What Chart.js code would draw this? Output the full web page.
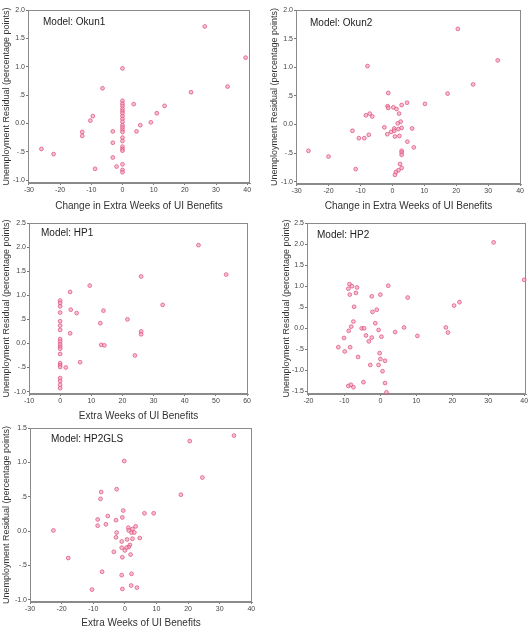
<!DOCTYPE html>
<html>
<head>
<meta charset="utf-8">
<script src="https://cdn.jsdelivr.net/npm/chart.js@4.4.1/dist/chart.umd.min.js"></script>
<style>
  body { margin: 0; background: #fff; }
  #wrap { position: relative; width: 531px; height: 639px; overflow: hidden; }
  #wrap canvas { position: absolute; }
</style>
</head>
<body>
<div id="wrap">
  <canvas id="c1"></canvas>
  <canvas id="c2"></canvas>
  <canvas id="c3"></canvas>
  <canvas id="c4"></canvas>
  <canvas id="c5"></canvas>
</div>
<script>
// tick labels
const weeksTicksWide = [-30, -20, -10, 0, 10, 20, 30, 40];
const weeksTicksHP1 = [-10, 0, 10, 20, 30, 40, 50, 60];
const weeksTicksHP2 = [-20, -10, 0, 10, 20, 30, 40];
const residTicksOkun = [-1.0, -0.5, 0.0, 0.5, 1.0, 1.5, 2.0];
const residTicksHP1 = [-1.0, -0.5, 0.0, 0.5, 1.0, 1.5, 2.0, 2.5];
const residTicksHP2 = [-1.5, -1.0, -0.5, 0.0, 0.5, 1.0, 1.5, 2.0, 2.5];
const residTicksGLS = [-1.0, -0.5, 0.0, 0.5, 1.0, 1.5];

// Model: Okun1
const okun1X = [26.4, 39.5, 33.7, 22, 0, -6.4, 3.6, 13.5, 11, 9.1, 5.7, 4.5, -9.5, -10.3, -12.9, -12.9,
  -3.1, -3.1, -3.1, -1.9, -8.8, -26, -22.1,
  0, 0, 0, 0, 0, 0, 0, 0, 0, 0, 0, 0, 0, 0, 0, 0, 0, 0, 0, 0, 0];
const okun1Y = [1.71, 1.16, 0.65, 0.55, 0.97, 0.62, 0.34, 0.31, 0.18, 0.02, -0.03, -0.14, 0.13, 0.05, -0.15, -0.22,
  -0.14, -0.34, -0.6, -0.76, -0.8, -0.45, -0.54,
  0.40, 0.35, 0.31, 0.26, 0.22, 0.18, 0.13, 0.08, 0.03, -0.03, -0.07, -0.11, -0.15, -0.25, -0.31, -0.41, -0.45, -0.48, -0.72, -0.82, -0.86];

// Model: Okun2
const okun2X = [20.5, 33, 25.3, 17.3, -7.8, -1.3, 4.6, 10.2, 2.9, -1.5, -1.3, 0.3, 1.3, 2.1, -7.1, -8.3, -6.3,
  -2.5, -12.5, -10.5, -8.8, -7.4, -1.6, -0.4, 0.6, 1.7, 2.6, 0.6, 1.9, 2.9, 0.8, 2.2, 6.2, 4.7, 6.7,
  2.9, 2.9, 2.9, 2.4, 2.9, 1.9, 1.1, 0.8, -11.5, -26.3, -20];
const okun2Y = [1.67, 1.12, 0.70, 0.54, 1.02, 0.55, 0.38, 0.36, 0.34, 0.32, 0.29, 0.30, 0.27, 0.19, 0.19, 0.16, 0.14,
  -0.05, -0.11, -0.24, -0.24, -0.18, -0.17, -0.13, -0.07, 0.02, 0.05, -0.11, -0.08, -0.06, -0.21, -0.20, -0.07, -0.30, -0.40,
  -0.46, -0.49, -0.53, -0.69, -0.76, -0.80, -0.83, -0.88, -0.78, -0.46, -0.56];

// Model: HP1
const hp1X = [44.4, 53.3, 26, 9.5, 3.2, 3.4, 5.3, 13.9, 32.9, 12.9, 21.6, 26, 26, 3.2, 13.2, 14.2, 6.4, 1.8, 24,
  0, 0, 0, 0, 0, 0, 0, 0, 0, 0, 0, 0, 0, 0, 0, 0, 0, 0, 0, 0];
const hp1Y = [2.04, 1.43, 1.39, 1.2, 1.07, 0.70, 0.63, 0.68, 0.80, 0.42, 0.50, 0.25, 0.19, 0.21, -0.03, -0.04, -0.39, -0.50, -0.25,
  0.89, 0.84, 0.77, 0.64, 0.46, 0.37, 0.28, 0.09, 0.04, -0.02, -0.07, -0.11, -0.22, -0.41, -0.45, -0.49, -0.72, -0.78, -0.86, -0.93];

// Model: HP2
const hp2X = [31.5, 40, 22, 20.5, 7.6, 2.2, -8.6, -7.9, -8.9, -6.5, -8.5, -6.8, -2.4, 0, -7.3, -2.2, -1, -7.5, -1.4,
  -8.1, -8.8, -5.2, -4.5, -0.5, -10.1, -4.0, -3.2, -2.4, 0.3, 4.1, 6.6, 10.3, 18.2, 18.8, -11.7, -9.9, -8.4,
  -6.2, -0.2, 0, 1.3, -2.8, -0.5, 0.6, -4.7, 1.3, -8.9, -8.2, -7.5, 1.7];
const hp2Y = [2.04, 1.15, 0.62, 0.54, 0.73, 1.01, 1.05, 1.0, 0.94, 0.97, 0.80, 0.84, 0.76, 0.8, 0.51, 0.39, 0.44, 0.16, 0.12,
  0.04, -0.06, 0.0, 0.0, -0.04, -0.23, -0.17, -0.31, -0.22, -0.20, -0.09, 0.02, -0.18, 0.02, -0.10, -0.45, -0.55, -0.45,
  -0.68, -0.59, -0.73, -0.77, -0.87, -0.87, -1.02, -1.28, -1.30, -1.37, -1.34, -1.40, -1.52];

// Model: HP2GLS
const glsX = [34.5, 20.5, 24.5, 17.7, -0.2, -7.5, -7.7, -2.6, -0.5, 6.2, 9.1, -5.4, -8.6, -2.8, -0.8, -8.6, -6.0,
  -22.6, 1.1, 2.4, 3.4, 2.1, 3.0, 1.2, -2.6, -2.8, 4.7, 2.4, 0.7, -1.0, 1.6, 1.2, 0.5, -1.0, 0, -3.5, 1.8, -0.8,
  -17.9, -7.2, -1.0, 2.1, -10.4, -0.8, 2.0, 3.8];
const glsY = [1.39, 1.31, 0.78, 0.53, 1.02, 0.57, 0.47, 0.61, 0.30, 0.26, 0.26, 0.22, 0.17, 0.16, 0.20, 0.08, 0.10,
  0.01, 0.05, 0.03, 0.07, -0.02, -0.02, 0.01, -0.02, -0.09, -0.10, -0.11, -0.12, -0.15, -0.20, -0.23, -0.24, -0.24, -0.28, -0.30, -0.34, -0.38,
  -0.39, -0.59, -0.64, -0.62, -0.85, -0.84, -0.79, -0.82];

const yTitle = 'Unemployment Residual (percentage points)';
const FONT = 'Arial, "Liberation Sans", sans-serif';
Chart.defaults.font.family = FONT;

// SPSS style labels: .5, -.5, 0.0
function fmt(v) {
  if (Math.abs(v) < 1e-9) return '0.0';
  let s = v.toFixed(1);
  if (Math.abs(v) < 1) s = s.replace('0.', '.');
  return s;
}

const boxPlugin = {
  id: 'box',
  beforeDatasetsDraw(chart, args, opts) {
    const { ctx, chartArea: a } = chart;
    ctx.save();
    ctx.strokeStyle = '#8a8a8a';
    ctx.lineWidth = 1;
    ctx.strokeRect(Math.round(a.left) + 0.5, Math.round(a.top) + 0.5,
      Math.round(a.right - a.left) - 1, Math.round(a.bottom - a.top) - 1);
    ctx.font = '10px ' + FONT;
    ctx.fillStyle = '#222';
    ctx.textBaseline = 'middle';
    ctx.fillText(opts.label, a.left + opts.dx, a.top + opts.dy);
    ctx.restore();
  }
};

function makeChart(p) {
  const cv = document.getElementById(p.id);
  cv.width = p.box[2];
  cv.height = p.box[3];
  cv.style.left = p.box[0] + 'px';
  cv.style.top = p.box[1] + 'px';

  const pts = p.xs.map((x, i) => ({ x: x, y: p.ys[i] }));

  new Chart(cv, {
    type: 'scatter',
    data: {
      datasets: [{
        data: pts,
        pointRadius: 1.9,
        pointBackgroundColor: 'rgba(245,165,190,0.7)',
        pointBorderColor: 'rgba(220,70,115,0.85)',
        pointBorderWidth: 0.8,
        clip: false
      }]
    },
    options: {
      responsive: false,
      animation: false,
      layout: { padding: { top: p.pad.top, right: p.pad.right, left: 0, bottom: 0 } },
      plugins: {
        legend: { display: false },
        tooltip: { enabled: false },
        box: { label: p.label, dx: p.lab[0], dy: p.lab[1] }
      },
      scales: {
        x: {
          type: 'linear',
          min: p.xMin, max: p.xMax,
          afterBuildTicks: ax => { ax.ticks = p.xTicks.map(v => ({ value: v })); },
          afterFit: ax => { ax.height = p.xh; },
          grid: { drawOnChartArea: false, tickLength: 2, color: '#777' },
          border: { display: true, color: '#8a8a8a' },
          ticks: { autoSkip: false, maxRotation: 0, padding: 1, color: '#444', font: { size: 7 }, callback: v => String(v) },
          title: { display: !!p.xTitle, text: p.xTitle, color: '#333', font: { size: 10 }, padding: { top: 0, bottom: 0 } }
        },
        y: {
          type: 'linear',
          min: p.yMin, max: p.yMax,
          afterBuildTicks: ax => { ax.ticks = p.yTicks.map(v => ({ value: v })); },
          afterFit: ax => { ax.width = p.yw; },
          grid: { drawOnChartArea: false, tickLength: 2, color: '#777' },
          border: { display: true, color: '#8a8a8a' },
          ticks: { padding: 1, color: '#444', font: { size: 7 }, callback: v => fmt(v) },
          title: { display: true, text: yTitle, color: '#333', font: { size: 9 }, padding: { top: 1.5, bottom: 0 } }
        }
      }
    },
    plugins: [boxPlugin]
  });
}

makeChart({ id: 'c1', label: 'Model: Okun1', xs: okun1X, ys: okun1Y, xTicks: weeksTicksWide, yTicks: residTicksOkun,
  xMin: -30.3, xMax: 40.9, yMin: -1.05, yMax: 2.0, xTitle: 'Change in Extra Weeks of UI Benefits',
  box: [0, 0, 265, 212], yw: 28, xh: 29, pad: { top: 10, right: 15 }, lab: [15, 12] });

makeChart({ id: 'c2', label: 'Model: Okun2', xs: okun2X, ys: okun2Y, xTicks: weeksTicksWide, yTicks: residTicksOkun,
  xMin: -30.2, xMax: 40.3, yMin: -1.04, yMax: 2.0, xTitle: 'Change in Extra Weeks of UI Benefits',
  box: [268, 0, 263, 212], yw: 28, xh: 28, pad: { top: 10, right: 10 }, lab: [14, 13] });

makeChart({ id: 'c3', label: 'Model: HP1', xs: hp1X, ys: hp1Y, xTicks: weeksTicksHP1, yTicks: residTicksHP1,
  xMin: -10, xMax: 60.3, yMin: -1.05, yMax: 2.5, xTitle: 'Extra Weeks of UI Benefits',
  box: [0, 210, 265, 212], yw: 29, xh: 28, pad: { top: 13, right: 17 }, lab: [12, 10] });

makeChart({ id: 'c4', label: 'Model: HP2', xs: hp2X, ys: hp2Y, xTicks: weeksTicksHP2, yTicks: residTicksHP2,
  xMin: -20.4, xMax: 40.5, yMin: -1.56, yMax: 2.5, xTitle: '',
  box: [280, 210, 251, 200], yw: 27, xh: 16, pad: { top: 13, right: 5 }, lab: [10, 12] });

makeChart({ id: 'c5', label: 'Model: HP2GLS', xs: glsX, ys: glsY, xTicks: weeksTicksWide, yTicks: residTicksGLS,
  xMin: -30, xMax: 40.2, yMin: -1.03, yMax: 1.5, xTitle: 'Extra Weeks of UI Benefits',
  box: [0, 418, 265, 211], yw: 30, xh: 27, pad: { top: 10, right: 13 }, lab: [21, 11] });
</script>
</body>
</html>
